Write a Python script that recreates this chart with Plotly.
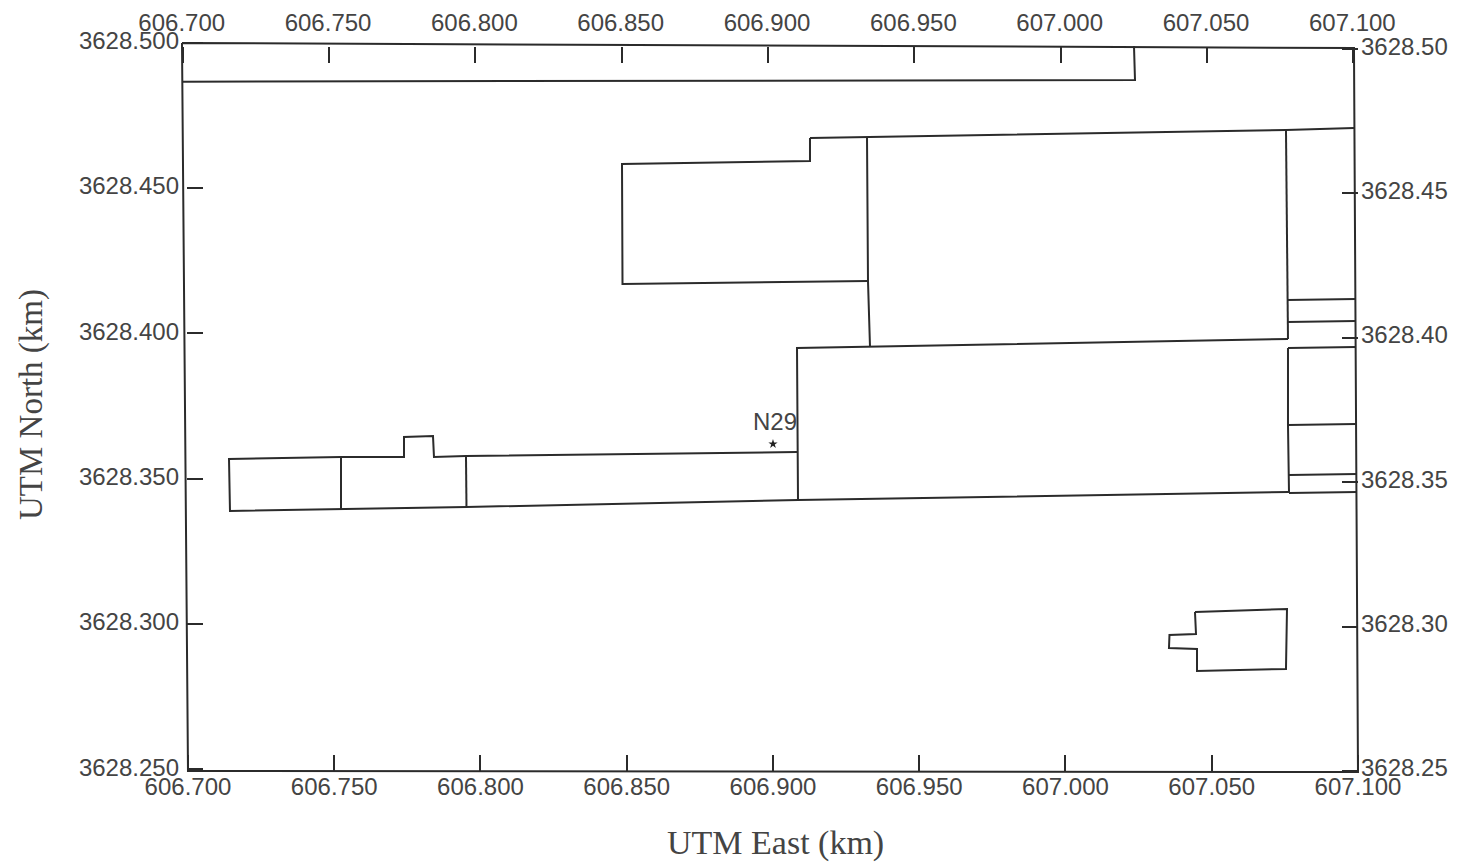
import plotly.graph_objects as go

# Tick values and labels
bottom_ticks = [606.70, 606.75, 606.80, 606.85, 606.90, 606.95, 607.00, 607.05, 607.10]
bottom_labels = ["606.700", "606.750", "606.800", "606.850", "606.900", "606.950", "607.000", "607.050", "607.100"]
left_ticks = [3628.25, 3628.30, 3628.35, 3628.40, 3628.45, 3628.50]
left_labels = ["3628.250", "3628.300", "3628.350", "3628.400", "3628.450", "3628.500"]
right_labels = ["3628.25", "3628.30", "3628.35", "3628.40", "3628.45", "3628.50"]

# Outlines (UTM East / UTM North, km)
frame_x = [606.69795, 607.09863, 607.1, 606.7, 606.69795]
frame_y = [3628.49988, 3628.49816, 3628.24907, 3628.24942, 3628.49988]

strip_x = [606.69795, 607.02376, 607.02342]
strip_y = [3628.48656, 3628.48715, 3628.49884]

upper_x = [606.91265, 606.91265, 606.84838, 606.84855, 606.93248]
upper_y = [3628.46719, 3628.45928, 3628.45825, 3628.41696, 3628.41799]

roof_x = [606.91265, 606.93214, 607.07538, 607.09863]
roof_y = [3628.46719, 3628.46754, 3628.46994, 3628.47063]

divider_x = [606.93214, 606.93248, 606.93316]
divider_y = [3628.46754, 3628.41799, 3628.39563]

right_wall_x = [607.07538, 607.07607]
right_wall_y = [3628.46994, 3628.39804]

middle_x = [606.90855, 606.90821, 607.07607]
middle_y = [3628.34265, 3628.39494, 3628.39804]

base_x = [607.07641, 606.90855, 606.79521, 606.75231, 606.71436, 606.71402, 606.75231]
base_y = [3628.34540, 3628.34265, 3628.34024, 3628.33955, 3628.33887, 3628.35676, 3628.35744]

stack_top_x = [606.75231, 606.77385, 606.77385, 606.78376, 606.78410, 606.79504, 606.90821]
stack_top_y = [3628.35744, 3628.35744, 3628.36432, 3628.36467, 3628.35744, 3628.35779, 3628.35916]

cut_a_x = [606.75231, 606.75231]
cut_a_y = [3628.35744, 3628.33955]
cut_b_x = [606.79504, 606.79521]
cut_b_y = [3628.35779, 3628.34024]

column_x = [607.07607, 607.07607, 607.07641]
column_y = [3628.39494, 3628.36845, 3628.34540]

bar1_x = [607.07573, 607.09932]
bar1_y = [3628.41146, 3628.41180]
bar2_x = [607.07573, 607.09932]
bar2_y = [3628.40389, 3628.40423]
bar3_x = [607.07607, 607.09932]
bar3_y = [3628.39494, 3628.39529]
bar4_x = [607.07607, 607.09932]
bar4_y = [3628.36845, 3628.36880]
bar5_x = [607.07641, 607.09966]
bar5_y = [3628.35125, 3628.35160]
bar6_x = [607.07641, 607.09966]
bar6_y = [3628.34506, 3628.34540]

annex_x = [607.04427, 607.07573, 607.07538, 607.04496, 607.04496, 607.03538, 607.03555, 607.04462, 607.04427]
annex_y = [3628.30412, 3628.30515, 3628.28451, 3628.28382, 3628.29139, 3628.29173, 3628.29620, 3628.29655, 3628.30412]

receptor_x = [606.90]
receptor_y = [3628.36192]
receptor_label_x = [606.90068]
receptor_label_y = [3628.36879]
receptor_name = ["N29"]

outlines = [
    (frame_x, frame_y), (strip_x, strip_y), (upper_x, upper_y), (roof_x, roof_y),
    (divider_x, divider_y), (right_wall_x, right_wall_y), (middle_x, middle_y),
    (base_x, base_y), (stack_top_x, stack_top_y), (cut_a_x, cut_a_y), (cut_b_x, cut_b_y),
    (column_x, column_y), (bar1_x, bar1_y), (bar2_x, bar2_y), (bar3_x, bar3_y),
    (bar4_x, bar4_y), (bar5_x, bar5_y), (bar6_x, bar6_y), (annex_x, annex_y),
]

INK = "#2b2b2b"
TEXT = "#444444"
SANS = "Liberation Sans"
SERIF = "Liberation Serif"

fig = go.Figure()
for xs, ys in outlines:
    fig.add_trace(go.Scatter(x=xs, y=ys, mode="lines", showlegend=False, hoverinfo="skip",
                             line=dict(color=INK, width=2)))
fig.add_trace(go.Scatter(x=receptor_x, y=receptor_y, mode="markers", showlegend=False,
                         marker=dict(symbol="star", size=7, color="#222222")))
fig.add_trace(go.Scatter(x=receptor_label_x, y=receptor_label_y, mode="text", text=receptor_name,
                         textposition="middle center", showlegend=False, hoverinfo="skip",
                         textfont=dict(family=SANS, size=24, color=TEXT)))
fig.add_trace(go.Scatter(x=[None], y=[None], xaxis="x2", yaxis="y2", mode="lines",
                         showlegend=False, hoverinfo="skip"))

tick_common = dict(showgrid=False, zeroline=False, showline=False, ticks="inside", ticklen=16,
                   tickwidth=2, tickcolor=INK, tickmode="array", automargin=False,
                   tickfont=dict(family=SANS, size=24, color=TEXT), domain=[0, 1], anchor="free")

fig.update_layout(
    width=1457, height=864, margin=dict(l=0, r=0, t=0, b=0),
    paper_bgcolor="white", plot_bgcolor="white", showlegend=False,
    xaxis=dict(range=[606.63573, 607.13385], side="bottom", position=0.10764,
               tickvals=bottom_ticks, ticktext=bottom_labels, ticklabelstandoff=-1, **tick_common),
    xaxis2=dict(range=[606.63757, 607.13542], side="top", position=0.94676, overlaying="x",
                tickvals=bottom_ticks, ticktext=bottom_labels, ticklabelstandoff=10,
                ticklabelshift=-1, **tick_common),
    yaxis=dict(range=[3628.21742, 3628.51467], side="left", position=0.12766,
               tickvals=left_ticks, ticktext=left_labels, ticklabelstandoff=7,
               ticklabelshift=-2, **tick_common),
    yaxis2=dict(range=[3628.21779, 3628.51701], side="right", position=0.93205, overlaying="y",
                tickvals=left_ticks, ticktext=right_labels, ticklabelstandoff=2,
                ticklabelshift=-3, **tick_common),
    annotations=[
        dict(text="UTM East (km)", xref="paper", yref="paper", x=776 / 1457, y=1 - 843 / 864,
             showarrow=False, xanchor="center", yanchor="middle",
             font=dict(family=SERIF, size=34, color=TEXT)),
        dict(text="UTM North (km)", xref="paper", yref="paper", x=31 / 1457, y=1 - 405 / 864,
             showarrow=False, xanchor="center", yanchor="middle", textangle=-90,
             font=dict(family=SERIF, size=33, color=TEXT)),
    ],
)

fig.write_html("out.html", config=dict(displayModeBar=False),
               post_script="document.body.style.margin='0';document.body.style.overflow='hidden';")
